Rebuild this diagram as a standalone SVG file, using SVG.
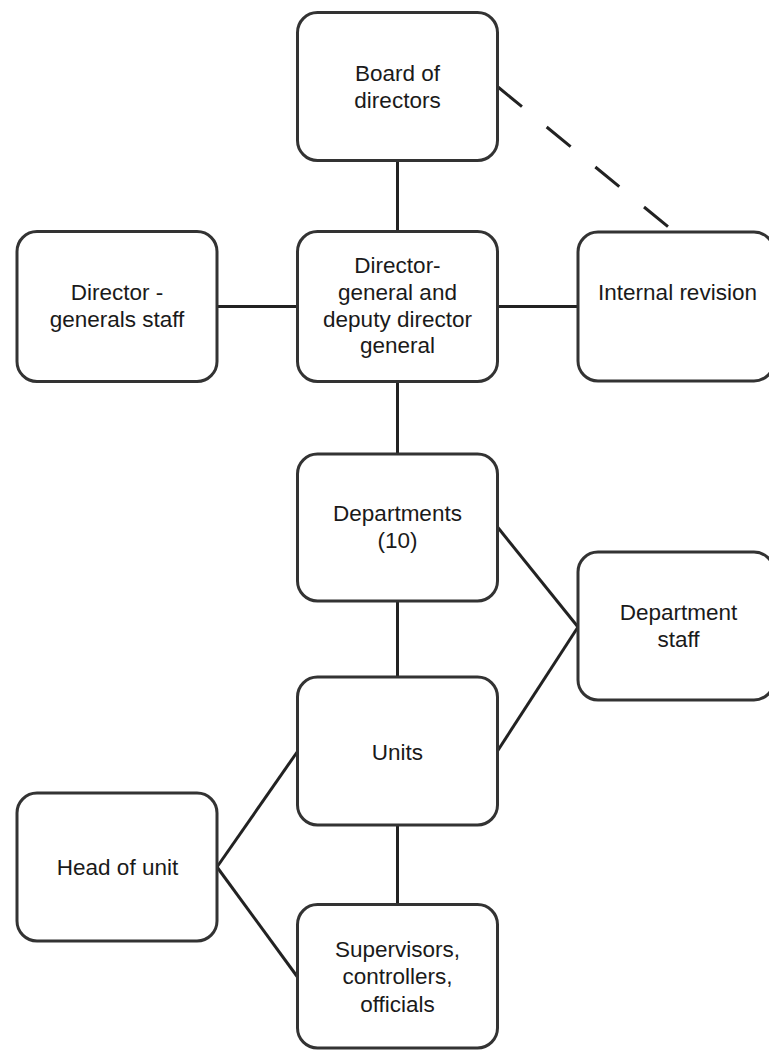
<svg xmlns="http://www.w3.org/2000/svg" width="769" height="1050" viewBox="0 0 769 1050">
<style>
.box{fill:#fff;stroke:#333;stroke-width:3}
.t{font-family:"Liberation Sans",Arial,sans-serif;font-size:22.5px;fill:#1a1a1a;text-anchor:middle}
.ln{stroke:#222;stroke-width:3;fill:none}
.dash{stroke:#222;stroke-width:3;fill:none;stroke-dasharray:31 32}
</style>
<rect width="769" height="1050" fill="#fff"/>
<g id="connectors">
<line class="ln" x1="397.5" y1="161" x2="397.5" y2="231"/>
<line class="ln" x1="397.5" y1="381" x2="397.5" y2="454"/>
<line class="ln" x1="397.5" y1="601" x2="397.5" y2="677"/>
<line class="ln" x1="397.5" y1="825" x2="397.5" y2="904"/>
<line class="ln" x1="217" y1="306.5" x2="297.5" y2="306.5"/>
<line class="ln" x1="497.5" y1="306.5" x2="578" y2="306.5"/>
<line class="dash" x1="498" y1="87" x2="672" y2="230"/>
<line class="ln" x1="497.5" y1="527" x2="578" y2="627"/>
<line class="ln" x1="497.5" y1="751" x2="578" y2="627"/>
<line class="ln" x1="217" y1="867" x2="297.5" y2="751.5"/>
<line class="ln" x1="217" y1="867" x2="297.5" y2="977"/>
</g>
<g id="board">
<rect class="box" x="297.5" y="12.5" width="200" height="148" rx="20"/>
<text class="t" x="397.5" y="81">Board of</text>
<text class="t" x="397.5" y="108">directors</text>
</g>
<g id="dg-staff">
<rect class="box" x="17" y="231.5" width="200" height="150" rx="20"/>
<text class="t" x="117" y="300">Director -</text>
<text class="t" x="117" y="327">generals staff</text>
</g>
<g id="dg">
<rect class="box" x="297.5" y="231.5" width="200" height="150" rx="20"/>
<text class="t" x="397.5" y="273">Director-</text>
<text class="t" x="397.5" y="300">general and</text>
<text class="t" x="397.5" y="327">deputy director</text>
<text class="t" x="397.5" y="353">general</text>
</g>
<g id="internal-revision">
<rect class="box" x="578" y="232" width="196" height="149" rx="20"/>
<text class="t" x="677.5" y="300">Internal revision</text>
</g>
<g id="departments">
<rect class="box" x="297.5" y="454" width="200" height="147" rx="20"/>
<text class="t" x="397.5" y="521">Departments</text>
<text class="t" x="397.5" y="548">(10)</text>
</g>
<g id="department-staff">
<rect class="box" x="578" y="552" width="196" height="148" rx="20"/>
<text class="t" x="678.5" y="620">Department</text>
<text class="t" x="678.5" y="647">staff</text>
</g>
<g id="units">
<rect class="box" x="297.5" y="677" width="200" height="148" rx="20"/>
<text class="t" x="397.5" y="760">Units</text>
</g>
<g id="head-of-unit">
<rect class="box" x="17" y="793" width="200" height="148" rx="20"/>
<text class="t" x="117.5" y="875">Head of unit</text>
</g>
<g id="supervisors">
<rect class="box" x="297.5" y="904.5" width="200" height="143.5" rx="20"/>
<text class="t" x="397.5" y="957">Supervisors,</text>
<text class="t" x="397.5" y="984">controllers,</text>
<text class="t" x="397.5" y="1012">officials</text>
</g>
</svg>
